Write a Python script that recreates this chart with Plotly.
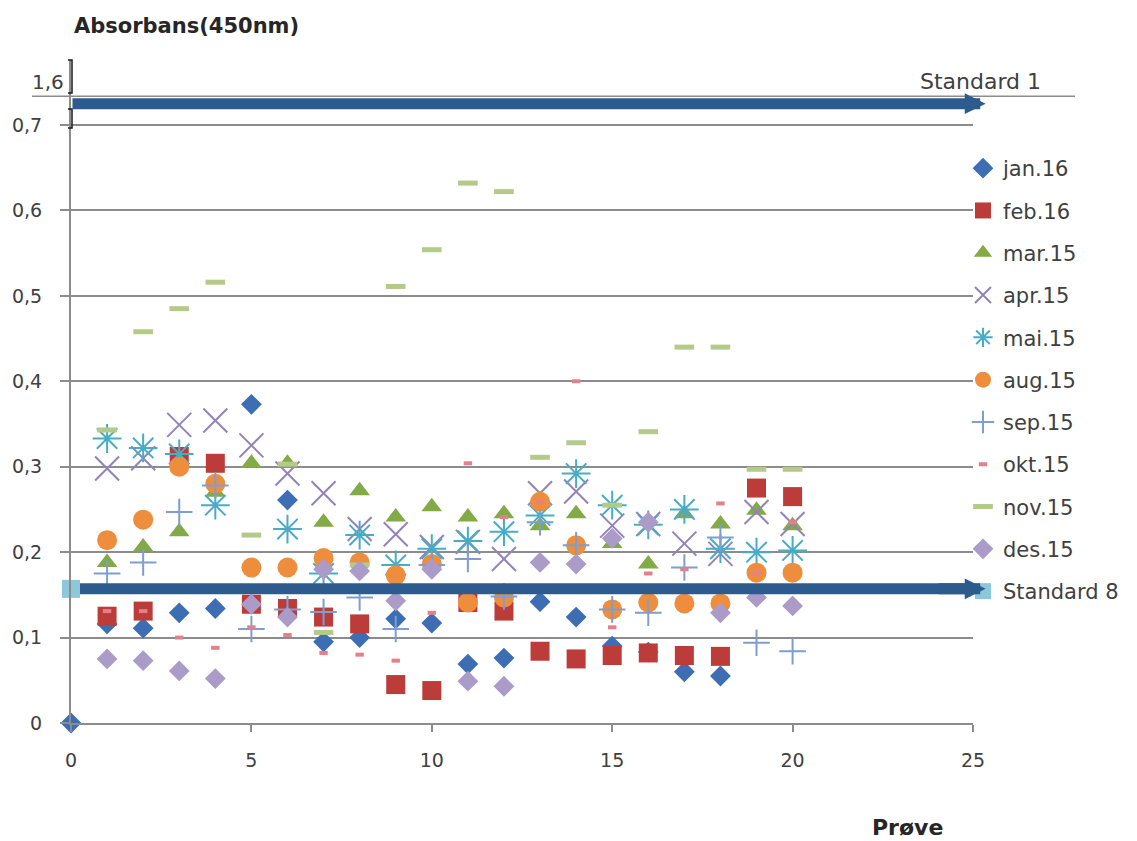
import plotly.graph_objects as go

# Sample number (Prøve) on the x axis
samples = list(range(1, 21))

# Absorbance at 450 nm per month; None = no reading
jan16_x = list(range(0, 19))
jan16 = [0.0, 0.116, 0.111, 0.129, 0.134, 0.373, 0.261, 0.095, 0.100, 0.122,
         0.117, 0.069, 0.076, 0.142, 0.124, 0.090, 0.083, 0.060, 0.055]
feb16 = [0.125, 0.131, 0.312, 0.304, 0.139, 0.134, 0.124, 0.116, 0.045, 0.038,
         0.141, 0.131, 0.084, 0.075, 0.079, 0.082, 0.079, 0.078, 0.275, 0.265]
mar15 = [0.188, 0.206, 0.224, 0.270, 0.304, 0.304, 0.235, 0.272, 0.241, 0.253,
         0.241, 0.245, 0.231, 0.245, 0.210, 0.186, 0.245, 0.233, 0.249, 0.231]
apr15 = [0.298, 0.310, 0.349, 0.354, 0.325, 0.292, 0.269, 0.227, 0.221, 0.206,
         0.212, 0.192, 0.269, 0.271, 0.231, 0.233, 0.210, 0.198, 0.247, 0.233]
mai15 = [0.333, 0.322, 0.315, 0.255, None, 0.227, 0.175, 0.220, 0.185, 0.204,
         0.213, 0.224, 0.243, 0.292, 0.255, 0.232, 0.250, 0.204, 0.200, 0.202]
aug15 = [0.214, 0.238, 0.300, 0.280, 0.182, 0.182, 0.193, 0.188, 0.173, 0.186,
         0.141, 0.147, 0.259, 0.208, 0.133, 0.141, 0.140, 0.140, 0.176, 0.176]
sep15 = [0.175, 0.188, 0.247, 0.278, 0.110, 0.133, 0.130, 0.147, 0.110, 0.185,
         0.192, 0.148, 0.235, 0.208, 0.133, 0.129, 0.182, 0.217, 0.094, 0.084]
okt15 = [0.131, 0.131, 0.100, 0.088, 0.112, 0.103, 0.082, 0.080, 0.073, 0.129,
         0.304, 0.241, 0.259, 0.400, 0.112, 0.175, 0.180, 0.257, 0.176, 0.235]
nov15 = [0.343, 0.458, 0.485, 0.516, 0.220, 0.303, 0.106, 0.185, 0.511, 0.554,
         0.632, 0.622, 0.311, 0.328, 0.255, 0.341, 0.440, 0.440, 0.297, 0.297]
des15 = [0.075, 0.073, 0.061, 0.052, 0.139, 0.124, 0.180, 0.178, 0.143, 0.180,
         0.049, 0.043, 0.188, 0.186, 0.216, 0.235, None, 0.129, 0.147, 0.137]

# Standards: level on the (broken) y axis and the x span of the reference arrows
std1_level = 0.725      # drawn just under the "1,6" break line
std8_level = 0.157
std_tail = 0.0
std_tip = 25.35

y_ticks = [0, 0.1, 0.2, 0.3, 0.4, 0.5, 0.6, 0.7]
y_tick_text = ["0", "0,1", "0,2", "0,3", "0,4", "0,5", "0,6", "0,7"]
break_level = 0.7335
break_label = "1,6"
x_ticks = [0, 5, 10, 15, 20, 25]

FONT = "DejaVu Sans"
TXT = "#404040"
GRID = "#8c8c8c"
ARROW = "#2d5b8e"
SHAFT = 11

series = [
    ("jan.16", jan16_x, jan16, dict(symbol="diamond", size=16, color="#3d6db3")),
    ("feb.16", samples, feb16, dict(symbol="square", size=19, color="#bc3c3a")),
    ("mar.15", samples, mar15, dict(symbol="triangle-up", size=18, color="#82aa46")),
    ("apr.15", samples, apr15, dict(symbol="x-thin-open", size=24, color="#9383b8",
                                     line=dict(width=2, color="#9383b8"))),
    ("mai.15", samples, mai15, dict(symbol="asterisk-open", size=24, color="#46adc5",
                                     line=dict(width=2, color="#46adc5"))),
    ("aug.15", samples, aug15, dict(symbol="circle", size=20, color="#ee8e3d")),
    ("sep.15", samples, sep15, dict(symbol="cross-thin-open", size=19, color="#7f9dcf",
                                     line=dict(width=2, color="#7f9dcf"))),
    ("okt.15", samples, okt15, dict(symbol="line-ew-open", size=6, color="#e2808c",
                                     line=dict(width=4, color="#e2808c"))),
    ("nov.15", samples, nov15, dict(symbol="line-ew-open", size=14, color="#b4c98a",
                                     line=dict(width=5, color="#b4c98a"))),
    ("des.15", samples, des15, dict(symbol="diamond", size=16, color="#aa9bc9")),
]

fig = go.Figure()
for i, (name, xs, ys, mk) in enumerate(series):
    fig.add_trace(go.Scatter(
        x=xs, y=ys, name=name, mode="markers", marker=mk,
        legendgroup=f"g{i}", cliponaxis=False,
    ))

# Standard 8 shaft (below its start marker)
fig.add_trace(go.Scatter(
    x=[std_tail, 25], y=[std8_level, std8_level], mode="lines",
    line=dict(color=ARROW, width=SHAFT),
    showlegend=False, hoverinfo="skip",
))

# Standard 8 series: marker at the start of its reference arrow
fig.add_trace(go.Scatter(
    x=[std_tail], y=[std8_level], name="Standard 8", mode="markers",
    marker=dict(symbol="square", size=18, color="#8dc7da"),
    legendgroup="g10", cliponaxis=False,
))

# Arrows: Standard 1 drawn in full, Standard 8 head continuing its shaft
for level, tail in ((std1_level, std_tail), (std8_level, 24.0)):
    fig.add_annotation(
        x=std_tip, y=level, ax=tail, ay=level,
        xref="x", yref="y", axref="x", ayref="y",
        showarrow=True, arrowhead=2, arrowsize=0.38, arrowwidth=SHAFT,
        arrowcolor=ARROW, text=" ", font=dict(size=1),
    )

W, H = 1137, 841
L, R, T, B = 71, 164, 60, 118
pw, ph = W - L - R, H - T - B


def px_x(p):
    return (p - L) / pw


def px_y(p):
    return (H - B - p) / ph


# Break line for the 1,6 level and its labels
fig.add_shape(type="line", xref="paper", yref="y",
              x0=px_x(32), x1=px_x(1075), y0=break_level, y1=break_level,
              line=dict(color=GRID, width=1.5), layer="below")
fig.add_annotation(x=px_x(66), y=break_level, xref="paper", yref="y",
                   text=break_label, showarrow=False, xanchor="right",
                   yanchor="bottom", yshift=0,
                   font=dict(family=FONT, size=20, color=TXT))
fig.add_annotation(x=px_x(918), y=break_level, xref="paper", yref="y",
                   text="Standard 1", showarrow=False, xanchor="left",
                   yanchor="bottom", yshift=0,
                   font=dict(family=FONT, size=22, color=TXT))

# Axis-break marks on the y axis
for top, bot in ((60, 93), (109, 128)):
    fig.add_shape(type="path", xref="paper", yref="paper",
                  path=(f"M {px_x(68)},{px_y(top)} L {px_x(72)},{px_y(top)} "
                        f"L {px_x(72)},{px_y(bot)} L {px_x(68)},{px_y(bot)}"),
                  line=dict(color="#1a1a1a", width=1.5))

# Axis titles
fig.add_annotation(x=px_x(72), y=px_y(26), xref="paper", yref="paper",
                   text="<b>Absorbans(450nm)</b>", showarrow=False,
                   xanchor="left", yanchor="middle",
                   font=dict(family=FONT, size=21, color="#262626"))
fig.add_annotation(x=px_x(907), y=px_y(828), xref="paper", yref="paper",
                   text="<b>Prøve</b>", showarrow=False,
                   xanchor="center", yanchor="middle",
                   font=dict(family=FONT, size=22, color="#262626"))

fig.update_layout(
    width=W, height=H,
    margin=dict(l=L, r=R, t=T, b=B),
    paper_bgcolor="white", plot_bgcolor="white",
    font=dict(family=FONT, color=TXT),
    showlegend=True,
    legend=dict(
        x=px_x(963), y=px_y(148), xanchor="left", yanchor="top",
        font=dict(family=FONT, size=21, color=TXT),
        traceorder="grouped", tracegroupgap=12,
        bgcolor="rgba(0,0,0,0)", itemwidth=30,
    ),
    xaxis=dict(
        range=[0, 25], tickvals=x_ticks, showgrid=False, zeroline=False,
        showline=True, linecolor=GRID, linewidth=2,
        ticks="outside", ticklen=7, tickcolor=GRID, tickwidth=1.5,
        ticklabelstandoff=12,
        tickfont=dict(family=FONT, size=19, color=TXT),
    ),
    yaxis=dict(
        range=[0, ph / 854.3], tickvals=y_ticks, ticktext=y_tick_text,
        showgrid=True, gridcolor=GRID, gridwidth=1.5, zeroline=False,
        showline=True, linecolor=GRID, linewidth=2,
        ticks="outside", ticklen=9, tickcolor=GRID, tickwidth=1.5,
        ticklabelstandoff=14,
        tickfont=dict(family=FONT, size=19, color=TXT),
    ),
)

fig.write_html("out.html")
